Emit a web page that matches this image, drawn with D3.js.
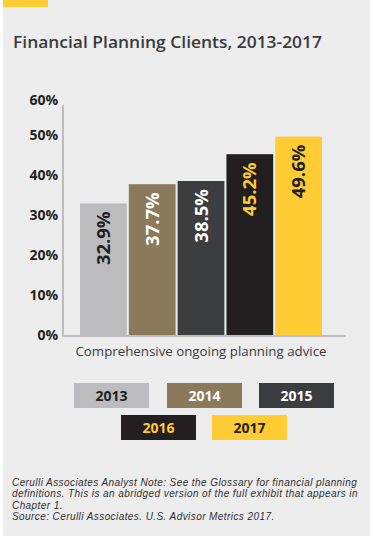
<!DOCTYPE html>
<html>
<head>
<meta charset="utf-8">
<script src="https://cdn.jsdelivr.net/npm/d3@7"></script>
<style>
  body { margin: 0; background: #fff; }
  svg { display: block; font-family: 'Open Sans', sans-serif; }
</style>
</head>
<body>
<svg id="chart"></svg>
<script>
// data
const years = ['2013', '2014', '2015', '2016', '2017'];
const values = [32.9, 37.7, 38.5, 45.2, 49.6];
const category = 'Comprehensive ongoing planning advice';
const yTicks = [0, 10, 20, 30, 40, 50, 60];
const barColors = ['#bcbcc0', '#8a7a5b', '#3b3d40', '#231f20', '#ffcc33'];
const textColors = ['#231f20', '#ffffff', '#ffffff', '#ffcc33', '#231f20'];
const notes = [
  'Cerulli Associates Analyst Note: See the Glossary for financial planning',
  'definitions. This is an abridged version of the full exhibit that appears in',
  'Chapter 1.',
  'Source: Cerulli Associates. U.S. Advisor Metrics 2017.'
];

const W = 373, H = 540;
const $svg = d3.select('#chart').attr('width', W).attr('height', H);

// panel background + yellow tab
$svg.append('rect').attr('x', 3).attr('y', 0).attr('width', 367).attr('height', 536).attr('fill', '#ededee');
$svg.append('rect').attr('x', 3).attr('y', 0).attr('width', 45).attr('height', 7).attr('fill', '#ffcc33');

$svg.append('text')
  .attr('x', 13).attr('y', 48)
  .attr('font-size', 17).attr('font-weight', 600).attr('fill', '#3a3a3c')
  .attr('textLength', 309).attr('lengthAdjust', 'spacingAndGlyphs')
  .text('Financial Planning Clients, 2013-2017');

// scales
const scaleY = d3.scaleLinear().domain([0, 60]).range([335, 95]);
const scaleX = d3.scaleBand().domain(years).range([80, 322]).paddingInner(0.042).paddingOuter(0);

// y axis labels
$svg.append('g').selectAll('text')
  .data(yTicks)
  .enter()
  .append('text')
  .attr('x', 58)
  .attr('y', d => scaleY(d) + (d === 60 ? 5 : 0))
  .attr('dy', '0.35em')
  .attr('text-anchor', 'end')
  .attr('font-size', 14).attr('font-weight', 'bold').attr('fill', '#231f20')
  .text(d => d + '%');

// bars
$svg.append('g').selectAll('rect')
  .data(values)
  .enter()
  .append('rect')
  .attr('x', (d, i) => scaleX(years[i]))
  .attr('y', d => scaleY(d))
  .attr('width', scaleX.bandwidth())
  .attr('height', d => scaleY(0) - scaleY(d))
  .attr('fill', (d, i) => barColors[i]);

// value labels, rotated
$svg.append('g').selectAll('text')
  .data(values)
  .enter()
  .append('text')
  .attr('transform', (d, i) => 'translate(' + (scaleX(years[i]) + scaleX.bandwidth() / 2) + ',' + (scaleY(d) + 8) + ') rotate(-90)')
  .attr('text-anchor', 'end')
  .attr('dy', '0.36em')
  .attr('font-size', 18.5).attr('font-weight', 'bold')
  .attr('fill', (d, i) => textColors[i])
  .text(d => d.toFixed(1) + '%');

// axis lines
$svg.append('line')
  .attr('x1', 63).attr('x2', 63)
  .attr('y1', scaleY(57.5)).attr('y2', scaleY(0) + 1)
  .attr('stroke', '#bdbdbf').attr('stroke-width', 2);
$svg.append('line')
  .attr('x1', 62).attr('x2', 346)
  .attr('y1', scaleY(0) + 1).attr('y2', scaleY(0) + 1)
  .attr('stroke', '#bdbdbf').attr('stroke-width', 2);

$svg.append('text')
  .attr('x', 201).attr('y', 356)
  .attr('text-anchor', 'middle')
  .attr('font-size', 13.3).attr('fill', '#3a3a3c')
  .text(category);

// legend
const legendPos = [[74, 383], [167, 383], [259, 383], [121, 415], [212, 415]];
const $legend = $svg.append('g').selectAll('g')
  .data(years)
  .enter()
  .append('g')
  .attr('transform', (d, i) => 'translate(' + legendPos[i][0] + ',' + legendPos[i][1] + ')');
$legend.append('rect')
  .attr('width', 75).attr('height', 25)
  .attr('fill', (d, i) => barColors[i]);
$legend.append('text')
  .attr('x', 37.5).attr('y', 12.5).attr('dy', '0.36em')
  .attr('text-anchor', 'middle')
  .attr('font-size', 14).attr('font-weight', 'bold')
  .attr('fill', (d, i) => textColors[i])
  .text(d => d);

// footnote (tight leading, so a compact font)
$svg.append('g').selectAll('text')
  .data(notes)
  .enter()
  .append('text')
  .attr('x', 12)
  .attr('y', (d, i) => 486 + i * 11.3)
  .attr('font-family', "'Liberation Sans', Arial, sans-serif")
  .attr('font-size', 10).attr('font-style', 'italic')
  .attr('letter-spacing', 0.42).attr('fill', '#2e2e30')
  .text(d => d);
</script>
</body>
</html>
